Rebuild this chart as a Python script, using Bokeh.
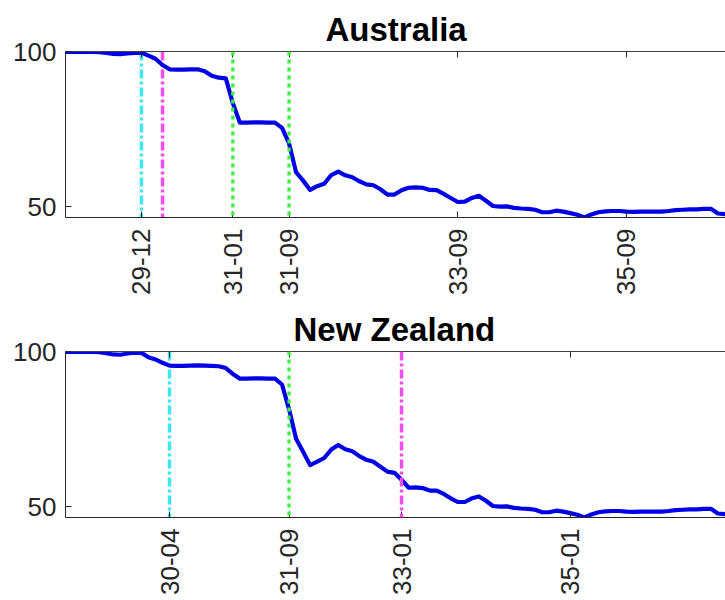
from bokeh.plotting import figure
from bokeh.layouts import column
from bokeh.models import Range1d, FixedTicker, LinearAxis, Span
from bokeh.embed import file_html
from bokeh.resources import INLINE
import math

# ---- data (month index: 0 = Jan 1929) ----
aus_values = [100.0, 100.0, 100.0, 100.0, 100.0, 99.9, 99.7, 99.4, 99.3, 99.5,
              99.7, 99.8, 98.8, 97.8, 95.8, 94.4, 94.3, 94.3, 94.4, 94.4,
              93.8, 92.3, 91.7, 91.5, 83.5, 77.2, 77.2, 77.3, 77.3, 77.2,
              77.2, 75.5, 70.5, 61.2, 58.5, 55.5, 56.7, 57.5, 60.3, 61.4,
              60.2, 59.6, 58.3, 57.3, 57.0, 55.7, 54.0, 54.0, 55.4, 56.2,
              56.3, 56.2, 55.5, 55.4, 54.2, 52.9, 51.6, 51.7, 52.9, 53.6,
              52.0, 50.3, 50.1, 50.2, 49.7, 49.5, 49.4, 49.1, 48.3, 48.3,
              48.8, 48.5, 48.0, 47.5, 46.6, 47.6, 48.3, 48.6, 48.7, 48.7,
              48.5, 48.4, 48.5, 48.5, 48.5, 48.5, 48.7, 49.0, 49.1, 49.2,
              49.2, 49.4, 49.4, 47.9, 47.7]
nz_values = [100.0, 100.0, 100.0, 100.0, 100.0, 99.9, 99.6, 99.2, 99.1, 99.5,
             99.8, 99.7, 98.3, 97.6, 96.5, 95.6, 95.5, 95.5, 95.6, 95.7,
             95.6, 95.5, 95.4, 94.8, 92.9, 91.4, 91.4, 91.5, 91.5, 91.4,
             91.4, 89.5, 81.5, 72.0, 67.8, 63.5, 64.6, 65.8, 68.5, 70.0,
             68.6, 68.0, 66.4, 65.2, 64.6, 63.0, 61.4, 61.0, 58.8, 56.2,
             56.3, 56.1, 55.3, 55.3, 54.2, 52.8, 51.6, 51.6, 52.8, 53.4,
             52.0, 50.3, 50.1, 50.2, 49.7, 49.5, 49.4, 49.1, 48.3, 48.3,
             48.8, 48.5, 48.0, 47.5, 46.6, 47.6, 48.3, 48.6, 48.7, 48.7,
             48.5, 48.4, 48.5, 48.5, 48.5, 48.5, 48.7, 49.0, 49.1, 49.2,
             49.2, 49.4, 49.4, 47.9, 47.7]

aus_tick_labels = ["29-12", "31-01", "31-09", "33-09", "35-09"]
nz_tick_labels = ["30-04", "31-09", "33-01", "35-01"]

aus_cyan = ["29-12"]
aus_magenta = ["30-03"]
aus_green = ["31-01", "31-09"]
nz_cyan = ["30-04"]
nz_magenta = ["33-01"]
nz_green = ["31-09"]

y_ticks = [50, 100]


def month_index(lbl):
    yy, mm = lbl.split("-")
    return (int(yy) - 29) * 12 + int(mm) - 1


FONT = "Liberation Sans"
AXC = "#262626"
FRAME_W = 660
X0 = 0.2
PX_PER_MONTH = 7.03


def make_panel(title, title_offset, values, tick_labels, cyan, magenta, green,
               top_border, bottom_border, frame_h, magenta_on_top):
    months = list(range(len(values)))
    p = figure(width=725, height=top_border + frame_h + bottom_border,
               min_border_left=65, min_border_right=0,
               min_border_top=top_border, min_border_bottom=bottom_border,
               x_range=Range1d(X0, X0 + FRAME_W / PX_PER_MONTH),
               y_range=Range1d(46.6, 100.15),
               output_backend="svg", toolbar_location=None,
               x_axis_location="below")
    p.outline_line_color = None
    p.xgrid.visible = False
    p.ygrid.visible = False
    p.background_fill_color = "white"
    p.border_fill_color = "white"

    p.title.text = title
    p.title.align = "left"
    p.title.offset = title_offset
    p.title.text_font = FONT
    p.title.text_font_size = "33px"
    p.title.text_font_style = "bold"
    p.title.text_color = "black"
    p.title.standoff = 8

    tick_pos = [month_index(t) for t in tick_labels]
    ax = p.xaxis[0]
    ax.ticker = FixedTicker(ticks=tick_pos)
    ax.major_label_overrides = {m: t for m, t in zip(tick_pos, tick_labels)}
    ax.major_label_orientation = math.pi / 2
    ax.major_label_text_font = FONT
    ax.major_label_text_font_size = "26px"
    ax.major_label_text_color = AXC
    ax.major_label_standoff = 11
    ax.major_tick_in = 6
    ax.major_tick_out = 0
    ax.minor_tick_line_color = None
    ax.axis_line_color = AXC
    ax.major_tick_line_color = AXC

    ay = p.yaxis[0]
    ay.ticker = FixedTicker(ticks=y_ticks)
    ay.major_label_text_font = FONT
    ay.major_label_text_font_size = "26px"
    ay.major_label_text_color = AXC
    ay.major_label_standoff = 9
    ay.major_tick_in = 6
    ay.major_tick_out = 0
    ay.minor_tick_line_color = None
    ay.axis_line_color = AXC
    ay.major_tick_line_color = AXC

    top = LinearAxis(ticker=FixedTicker(ticks=tick_pos))
    top.major_label_text_color = None
    top.major_label_standoff = 0
    top.major_tick_in = 6
    top.major_tick_out = 0
    top.minor_tick_line_color = None
    top.axis_line_color = "#404040"
    top.major_tick_line_color = AXC
    p.add_layout(top, "above")

    for lbl in cyan:
        p.add_layout(Span(location=month_index(lbl), dimension="height",
                          line_color="#3ee6f2", line_width=3.5,
                          line_dash="9 3 3 3", level="underlay"))
    for lbl in magenta:
        p.add_layout(Span(location=month_index(lbl), dimension="height",
                          line_color="#f04ef0", line_width=3.5,
                          line_dash="9 3 3 3",
                          level="annotation" if magenta_on_top else "underlay"))

    p.line(months, values, line_color="#0000e6", line_width=4.2,
           line_join="round", line_cap="round")

    for lbl in green:
        p.add_layout(Span(location=month_index(lbl), dimension="height",
                          line_color="#3cf03c", line_width=3.3,
                          line_dash="4 4"))
    return p


p1 = make_panel("Australia", 260, aus_values, aus_tick_labels,
                aus_cyan, aus_magenta, aus_green,
                top_border=51, bottom_border=83, frame_h=166,
                magenta_on_top=False)
p2 = make_panel("New Zealand", 228, nz_values, nz_tick_labels,
                nz_cyan, nz_magenta, nz_green,
                top_border=51, bottom_border=83, frame_h=166,
                magenta_on_top=True)

layout = column(p1, p2, spacing=0)
open("out.html", "w").write(file_html(layout, INLINE))
